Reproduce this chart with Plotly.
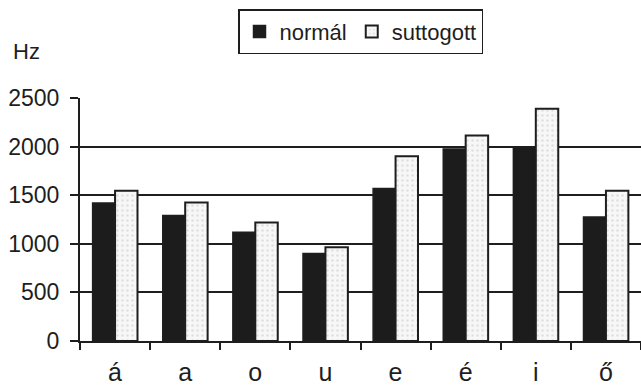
import plotly.graph_objects as go

categories = ["á", "a", "o", "u", "e", "é", "i", "ő"]
normal = [1420, 1290, 1120, 900, 1570, 1975, 1995, 1275]
suttogott = [1545, 1425, 1220, 965, 1900, 2115, 2390, 1545]
y_ticks = [0, 500, 1000, 1500, 2000, 2500]

FONT = "Liberation Sans, Arial, sans-serif"
INK = "#1e1e1e"

fig = go.Figure()
fig.add_trace(go.Bar(
    name="normál", x=categories, y=normal,
    marker=dict(color="#1c1c1c", line=dict(color=INK, width=1.5)),
))
fig.add_trace(go.Bar(
    name="suttogott", x=categories, y=suttogott,
    marker=dict(color="#f4f4f4", line=dict(color=INK, width=2),
                pattern=dict(shape=".", fgcolor="#c8c8c8", bgcolor="#f7f7f7",
                             size=5, solidity=0.2)),
))

fig.update_layout(
    width=641, height=387,
    margin=dict(l=80, r=0, t=98, b=46),
    paper_bgcolor="white", plot_bgcolor="white",
    barmode="group", bargap=0.36, bargroupgap=0,
    font=dict(family=FONT, size=23, color=INK),
    showlegend=True,
    legend=dict(orientation="h", x=0.5, xanchor="center", y=1.365, yanchor="top",
                bordercolor=INK, borderwidth=1.5, bgcolor="white",
                font=dict(size=22, family=FONT, color=INK),
                itemwidth=30, tracegroupgap=0),
    xaxis=dict(
        type="category", range=[-0.5, 7.5], automargin=False,
        showline=True, linecolor=INK, linewidth=2,
        ticks="outside", tickson="boundaries", ticklen=7, tickwidth=2, tickcolor=INK,
        showgrid=False, tickfont=dict(size=25, family=FONT, color=INK),
        ticklabelstandoff=8,
    ),
    yaxis=dict(
        range=[0, 2500], tickvals=y_ticks, automargin=False,
        showline=True, linecolor=INK, linewidth=2,
        ticks="outside", ticklen=8, tickwidth=2, tickcolor=INK,
        showgrid=True, gridcolor=INK, gridwidth=2, zeroline=False,
        tickfont=dict(size=23, family=FONT, color=INK),
        ticklabelstandoff=6,
    ),
    annotations=[dict(text="Hz", xref="paper", yref="paper", x=-0.096, y=1.19,
                      xanchor="center", yanchor="middle", showarrow=False,
                      font=dict(size=22, family=FONT, color=INK))],
)

fig.write_html("out.html")
